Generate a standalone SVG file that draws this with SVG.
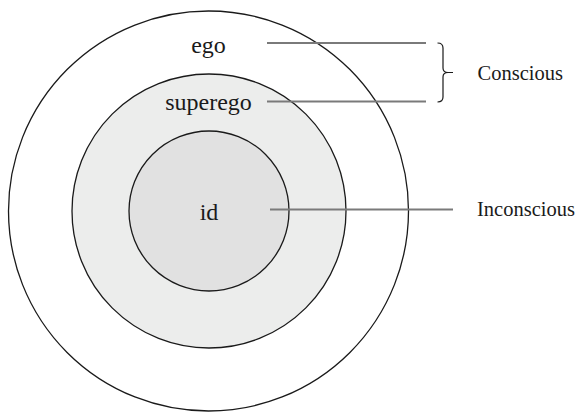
<svg xmlns="http://www.w3.org/2000/svg" width="581" height="412" viewBox="0 0 581 412">
  <style>
    .ring { stroke: #1a1a1a; stroke-width: 1.3; }
    .lbl { font-family: "Liberation Serif", "Times New Roman", serif; fill: #1a1a1a; }
    .inner { font-size: 24px; }
    .side { font-size: 20.5px; }
    .lead { stroke: #7a7a7a; stroke-width: 1.8; fill: none; }
    .brace { stroke: #1a1a1a; stroke-width: 1.2; fill: none; }
  </style>
  <rect width="581" height="412" fill="#ffffff"/>

  <!-- concentric layers of the psyche -->
  <g id="ego">
    <circle class="ring" cx="208.5" cy="211" r="200" fill="#ffffff"/>
    <text class="lbl inner" x="208.5" y="53" text-anchor="middle">ego</text>
  </g>
  <g id="superego">
    <circle class="ring" cx="209" cy="211" r="137" fill="#ecedec"/>
    <text class="lbl inner" x="208.5" y="110" text-anchor="middle">superego</text>
  </g>
  <g id="id">
    <circle class="ring" cx="209" cy="211" r="80" fill="#e1e1e1"/>
    <text class="lbl inner" x="209" y="220" text-anchor="middle">id</text>
  </g>

  <!-- leader lines and brace -->
  <g id="connectors">
    <line class="lead" x1="267" y1="43" x2="426" y2="43"/>
    <line class="lead" x1="267" y1="101.5" x2="426" y2="101.5"/>
    <line class="lead" x1="270" y1="209.5" x2="453" y2="209.5"/>
    <path class="brace" d="M437.5,43 C441.5,43 443,44.5 443,48 L443,68 C443,71.5 444.5,72.5 448,72.5 L453,72.5 M448,72.5 C444.5,72.5 443,73.5 443,77 L443,97 C443,100.5 441.5,102 437.5,102"/>
  </g>

  <g id="conscious">
    <text class="lbl side" x="477.5" y="80">Conscious</text>
  </g>
  <g id="inconscious">
    <text class="lbl side" x="477" y="216">Inconscious</text>
  </g>
</svg>
